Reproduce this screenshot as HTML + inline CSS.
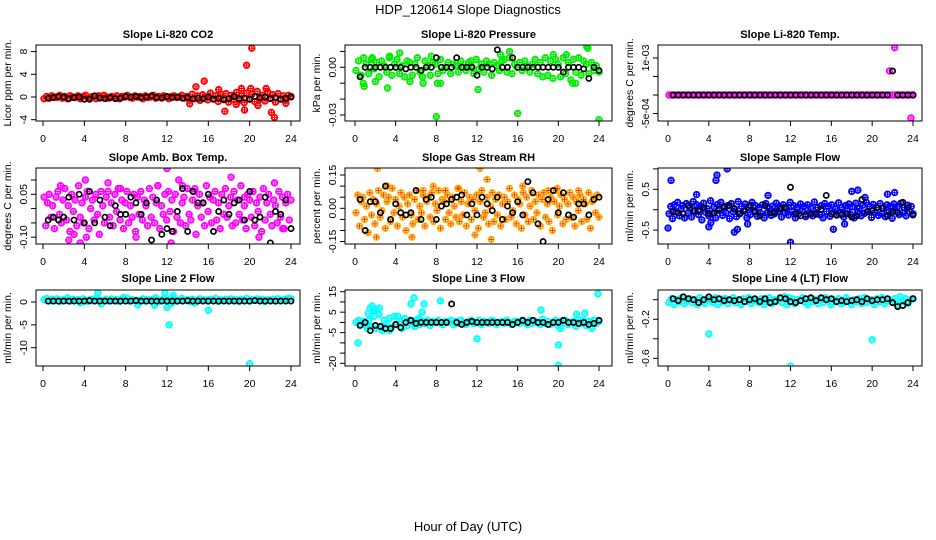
<!DOCTYPE html>
<html><head><meta charset="utf-8"><style>
html,body{margin:0;padding:0;background:#fff;}
svg{display:block;font-family:"Liberation Sans",sans-serif;}
</style></head><body>
<svg id="chart" width="936" height="540" viewBox="0 0 936 540" xmlns="http://www.w3.org/2000/svg">
<rect x="0" y="0" width="936" height="540" fill="#fff"/>
<text x="468" y="14" text-anchor="middle" font-size="13">HDP_120614  Slope Diagnostics</text>
<text x="468" y="531" text-anchor="middle" font-size="13">Hour of Day (UTC)</text>
</svg>
<script>
// ---------- data ----------
const xTicks=[0,4,8,12,16,20,24];
const titles=["Slope Li-820 CO2","Slope Li-820 Pressure","Slope Li-820 Temp.","Slope Amb. Box Temp.","Slope Gas Stream RH","Slope Sample Flow","Slope Line 2 Flow","Slope Line 3 Flow","Slope Line 4 (LT) Flow"];
const yLabels=["Licor ppm per min.","kPa per min.","degrees C per min.","degrees C per min.","percent per min.","ml/min per min.","ml/min per min.","ml/min per min.","ml/min per min."];
const colors=["#ff0000","#00ee00","#ff00ff","#ff00ff","#ffb000","#0000ff","#00ffff","#00ffff","#00ffff"];
const crossColors=["#ff0000","#00ee00","#ff00ff","#ff00ff","#ff3000","#0000ff","#00ffff","#00ffff","#00ffff"];
const yTicks=[[-4,0,4,8],[0.01,0,-0.01,-0.02,-0.03],[0.001,0.0005,0,-0.0005],[0.1,0.05,0,-0.05,-0.1],[0.15,0.1,0.05,0,-0.05,-0.1,-0.15],[1,0.5,0,-0.5],[0,-5,-10],[15,10,5,0,-5,-10,-15,-20],[0,-0.2,-0.4,-0.6]];
const yTickLabels=[["-4","0","4","8"],["","0.00","","","-0.03"],["1e-03","","","-5e-04"],["","0.05","","","-0.10"],["0.15","","","0.00","","","-0.15"],["","0.5","","-0.5"],["0","-5","-10"],["15","","5","","-5","","","-20"],["","-0.2","","-0.6"]];
// colored (all records) series, evenly spaced over the day
const c1=[-.3,.1,-.2,.2,0,-.1,.3,-.2,.1,-.3,.2,0,-.1,.2,-.3,.1,.3,-.2,0,.1,-.3,.2,-.1,.3,0,-.2,.1,-.1,.2,-.3,.1,0,.3,-.1,-.2,.2,0,.1,-.3,.2,-.1,0,.3,-.2,.1,-.1,.2,0,-.3,.1,.2,-.1,0,.3,-.2,.1,-.4,.5,-.3,.2,-.6,.4,0,-.5,.7,-.3,.2,-.8,.5,-.2,.6,-.9,.3,-.4,.8,-.6,.2,-1,.7,-.3,.5,-.8,1,-.4,.3,-.7,.9,-.2,.4,-.9,.6,-.3,.2,-.5,.3,.1];
const c2=[-.002,.004,-.005,.006,.002,-.004,.005,-.001,.003,-.006,.004,.001,-.003,.006,-.005,.002,.005,-.004,.001,-.006,.004,.003,-.005,.002,.006,-.003,-.006,.004,.001,-.005,.003,.002,-.004,.005,-.002,0,.003,-.004,.002,.001,-.003,.004,0,-.002,.003,.001,-.004,.005,-.001,.002,-.003,.004,.002,-.005,.003,.001,-.002,.004,.005,-.003,.006,-.004,.002,0,.003,-.002,.004,.001,-.003,.002,.005,-.004,.003,-.006,.006,-.005,.004,-.007,.005,.002,-.006,.006,-.004,.003,-.008,.005,-.003,.006,-.005,.004,.002,-.004,.003,-.002,.001,-.003];
const c3=[0,0,0,0,0,0,0,0,0,0,0,0,0,0,0,0,0,0,0,0,0,0,0,0,0,0,0,0,0,0,0,0,0,0,0,0,0,0,0,0,0,0,0,0,0,0,0,0,0,0,0,0,0,0,0,0,0,0,0,0,0,0,0,0,0,0,0,0,0,0,0,0,0,0,0,0,0,0,0,0,0,0,0,0,0,0,0,0,0,0,0,0,0,0,0,0];
const c4=[.04,-.06,.02,.05,-.03,.01,-.07,.04,.06,-.02,-.05,.03,.07,-.04,.01,-.08,.05,-.01,.03,-.06,.08,-.03,.02,-.05,.04,.06,-.07,0,.03,-.04,.05,-.02,-.09,.06,.01,-.05,.04,.09,-.03,.02,-.06,.05,-.01,.07,-.04,.03,-.07,.02,.06,-.05,.01,-.03,.05,-.08,.04,-.02,.06,-.04,.03,.01,-.06,.07,-.03,.04,-.05,.02,.08,-.07,.01,-.02,.05,-.04,.06,-.01,.03,-.08,.05,-.03,.1,-.05,.02,.04,-.06,.07,-.02,-.04,.03,.06,-.09,.01,.05,-.03,.02,-.06,.08,-.01,.04,-.05,.03,.06,-.04,.02,-.07,.05,-.02,.07,-.03,.01,.04,-.06,.06,-.05,.03,-.02,.08,-.04,.01,-.07,.05,.03,-.03,.06,-.06,.02,-.01,.04,-.08,.07,-.04,.02,.05,-.02,-.06,.03,.01,-.05,.06,-.03,.04,-.07,.02,.05,-.04,.03];
const c5=[-.02,.06,-.08,.03,.05,-.05,.01,-.11,.07,-.03,.04,-.07,.02,.08,-.04,-.01,.06,-.09,.03,.05,-.06,.09,-.02,.04,-.08,.01,.07,-.04,.05,-.1,.02,.06,-.03,-.07,.04,.08,-.05,.01,-.02,.06,-.08,.03,.05,-.04,.07,-.06,.02,-.01,.08,-.09,.04,.03,-.05,.06,-.02,-.07,.05,.01,-.04,.09,-.06,.03,-.03,.07,-.08,.02,.05,-.05,.04,-.01,.06,-.09,.03,.08,-.04,-.02,.05,-.07,.01,.07,-.06,.04,-.03,.06,-.08,.02,.05,-.05,.03,.09,-.04,-.01,.06,-.07,.04,.02,-.09,.07,-.03,.05,-.06,.01,.08,-.05,.03,-.02,.06,-.08,.04,.07,-.04,.02,-.06,.05,-.1,.03,.08,-.03,.01,.06,-.07,.04,-.05,.02,.07,-.04,.05,-.08,.03,-.01,.06,-.06,.04,.02,-.05,.07,-.09,.03,.05,-.02,.06,-.04];
const c6=[-.1,.08,-.22,.12,-.05,.18,-.15,.02,.1,-.2,.15,-.08,.05,-.18,.2,-.03,.12,-.12,.08,-.25,.16,-.06,.03,-.15,.22,-.1,.07,-.2,.13,-.02,.18,-.14,.04,-.08,.1,-.22,.15,-.05,.02,-.17,.2,-.1,.08,-.04,.14,-.2,.06,-.12,.18,-.03,.1,-.16,.05,-.09,.12,-.2,.15,-.06,.03,-.14,.09,-.1,.16,-.04,.07,-.18,.12,-.08,.02,-.13,.18,-.05,.1,-.2,.06,-.1,.14,-.03,.08,-.17,.12,-.07,.04,-.15,.19,-.09,.05,-.12,.1,-.2,.15,-.04,.08,-.16,.12,-.06,.02,-.13,.17,-.08,.06,-.18,.1,-.03,.14,-.12,.07,-.2,.16,-.05,.03,-.15,.11,-.09,.18,-.04,.08,-.19,.13,-.07,.05,-.14,.15,-.1,.04,-.17,.12,-.06,.09,-.21,.14,-.03,.07,-.12,.16,-.08,.05,-.15,.11,-.05,.08,-.1];
const c7=[.5,.8,.2,.6,.3,.7,.1,.5,.4,.9,.2,.6,.3,.5,-.2,.7,.4,.1,.6,.3,.8,.5,-.4,.4,.6,.2,.7,.3,.5,.1,.6,.4,.8,.2,.5,.3,-.6,.4,.7,.2,.5,.3,.6,.9,.1,.4,.7,.3,.5,-.3,.6,.2,.4,.8,.3,.5,.1,.6,-.2,.4,.7,.3,.5,.2,.6,.4,.8,.1,.5,.3,.6,.2,.7,.4,.5,.1,.6,.3,.8,.2,.5,.4,.7,.3,.6,.1,.5,.4,.6,.2,.7,.3,.5,.6,.8,.7];
const c8=[0,1,-1,.5,-1.5,1,-2,3,-3,4,-2,1,-1,2,-2.5,3,-1,.5,-3,2,-1.5,1,.5,-2,1.5,-1,.5,-.5,1,-1.5,.5,0,1,-.5,-1,.5,0,1,-1,.5,-.5,1,0,-1,.5,1,-.5,0,1,-1,.5,0,-.5,1,.5,-1,0,.5,-.5,1,0,-1,.5,.5,-.5,1,0,-1,1,-.5,.5,0,-1,1.5,-.5,.5,-1,0,1,-1.5,.5,-.5,1,-1,0,.5,-2,1.5,-.5,1,-1.5,.5,0,1,-.5,.5];
const c9=[-.03,.01,-.05,0,-.02,.02,-.04,-.01,.01,-.03,0,-.05,.02,-.02,-.04,.01,-.01,-.03,.02,-.05,0,-.02,.01,-.04,-.01,.02,-.03,0,-.05,.01,-.02,.02,-.04,-.01,0,-.03,.01,-.05,-.02,.02,-.04,0,-.01,.01,-.03,.03,-.05,-.02,.01,-.04,0,-.01,.02,-.03,-.05,.01,-.02,0,-.04,.01,-.03,.02,-.01,-.05,0,-.02,.01,-.04,-.03,.02,-.01,-.05,0,-.02,.01,-.04,.02,-.03,-.01,0,-.05,.01,-.02,.02,-.04,-.01,0,-.03,.01,-.05,.03,-.02,.01,-.04,0,.01];
// colored outliers
const o1h=[14.2,14.8,15.6,17,17.6,19.2,19.5,19.7,20.2,20.1,21.6,22.1,22.4,23.5,18.7,20.8];
const o1v=[-1.2,1.8,2.8,1.3,-2.5,1.5,-2.3,5.6,8.6,1.5,1.5,-2.7,-3.6,-1.1,-1.3,-1.5];
const o2h=[.8,.9,2,3.2,4.4,5.4,6.7,8,8.1,8.4,12.1,14.3,15.2,16,19.5,20.8,22.8,22.9,24,1.7,7.5,3.4,11.4,21.4,21.7];
const o2v=[-.01,-.012,-.009,-.013,.009,-.009,-.01,-.031,-.01,-.01,-.014,.008,.01,-.029,.008,.008,.013,.012,-.033,.006,.007,.007,.004,-.01,-.01];
const o3h=[22.2,21.7,23.8];
const o3v=[.00128,.00065,-.00062];
const o4h=[1.7,3,3.6,4.1,6.3,7.5,9,11.1,12,12.4,13.5,14.7,18.2,19.5,20.3,20.9,22.4,23.2,4.2,2.5];
const o4v=[.08,-.09,-.12,.1,.06,.07,-.1,.08,.14,-.12,.08,.07,.11,.04,.06,-.1,.09,-.07,-.1,-.11];
const o5h=[2.2,3.2,5.6,7.7,10.2,11.8,12.3,13,13.4,16.5,2.1,19,19.9,22,6.7,8.9];
const o5v=[.18,.1,-.13,.1,.09,-.12,.18,.13,-.14,.1,-.13,.08,.09,.08,.08,.08];
const o6h=[0,.3,4,4.7,4.8,5.8,6.5,6.8,9.8,12,16.2,17.3,18,18.6,19.3,21.5,22.2,4.2,7.8,2.8];
const o6v=[-.45,.72,-.42,.72,.85,1,-.55,-.48,.35,-.8,-.48,-.35,.45,.48,.3,.38,.42,-.32,-.35,.37];
const o7h=[5.3,11.8,12,12.2,12.6,16,20,7.8,10.8];
const o7v=[2,2,-1.2,-5,1.5,-1.8,-13.5,1,-.7];
const o8h=[.3,1.3,1.5,1.7,2,2.4,4.2,5.5,5.8,6.6,6.8,8.4,12,18.3,20,20,20.2,21.8,22.6,23.9,23.3,1.2,2.7,3.4,1.9,6.3];
const o8v=[-10,4.5,7,8,6,7,3,9,12,5,9,10.5,-8,6,-21,-11,-3,4,4.5,14,-3,-3,-4,-4,6,2];
const o9h=[4,20,12,11.8,5.5];
const o9v=[-.35,-.41,-.68,.02,.01];
// black (subset) series, every half hour from 0.5 h
const k1=[-.2,-.1,.1,0,-.3,-.1,0,-.4,-.4,.2,-.2,-.3,-.1,-.3,-.2,.1,0,.1,-.1,0,.2,-.1,-.2,.1,-.1,0,-.2,-.1,-.3,-.2,-.3,0,-.4,-.2,-.5,-.3,.1,-.3,-.2,-.4,.1,-.1,0,-.3,-.1,-.4,-.2,0];
const k2=[-.006,0,0,0,0,0,0,0,0,-.001,0,0,-.002,0,0,.006,0,0,0,.006,0,0,0,-.005,0,0,-.001,.011,0,0,.006,0,0,0,0,0,0,0,0,0,-.003,0,0,0,-.001,-.007,0,-.002];
const k3=[0,0,0,0,0,0,0,0,0,0,0,0,0,0,0,0,0,0,0,0,0,0,0,0,0,0,0,0,0,0,0,0,0,0,0,0,0,0,0,0,0,0,0,.00065,0,0,0,0];
const k4=[-.04,-.03,-.04,-.03,.04,-.04,.05,-.05,.06,-.05,.03,-.03,-.06,.01,-.02,-.02,.04,.02,-.02,.02,-.11,.03,-.09,-.07,-.08,-.01,.07,-.08,.06,.02,.02,.05,-.08,-.01,.03,-.02,.02,.03,-.04,.06,-.04,-.03,.04,-.12,-.01,-.02,.03,-.07];
const k5=[.04,-.1,.03,.03,-.02,.1,-.05,.02,-.02,-.03,-.02,.08,-.05,.04,.05,-.05,.01,.02,.04,.05,.06,-.03,.02,-.03,.05,.02,-.01,.05,-.05,.01,-.02,.03,-.03,.12,.07,-.07,-.15,.04,.08,-.02,.07,-.03,-.04,.02,.02,-.03,.04,.05];
const k6=[-.05,-.08,-.1,.1,-.03,-.02,.05,-.1,-.08,.02,.08,.1,.02,-.1,-.02,.1,-.05,-.15,.1,-.08,-.06,.02,.05,.55,-.1,-.15,-.12,-.1,-.11,.01,.35,-.1,-.13,-.12,-.1,-.18,-.15,.25,-.05,-.02,.05,.04,-.15,-.05,-.07,.18,.05,-.13];
const k7=[.2,.2,.2,.2,.2,.2,.2,.2,.3,.2,.2,.2,.2,.2,.2,.2,.2,.3,.2,.2,.2,.2,.2,.2,.2,.2,.2,.3,.2,.2,.2,.2,.2,.2,.2,.2,.2,.2,.2,.2,.3,.2,.2,.2,.2,.2,.2,.2];
const k8=[-1.5,0,-4,-1.5,-2,-3,-3,-1,-2.5,0,1,-.5,0,0,0,0,0,0,9,0,-1,0,.5,0,0,0,0,0,0,0,-1,0,1,0,1,0,0,-1,0,0,1,0,0,-.5,0,-1,-.5,1];
const k9=[.01,-.01,.03,.01,0,-.03,0,.03,0,.01,-.01,0,-.01,0,-.02,0,.01,-.02,.01,-.03,-.02,.02,.01,-.02,-.03,-.01,.01,.02,-.01,.02,0,.01,-.02,-.01,-.02,-.01,0,-.02,.01,-.01,0,0,.01,-.03,-.07,-.06,-.03,.01];

const allC=[c1,c2,c3,c4,c5,c6,c7,c8,c9];
const allOH=[o1h,o2h,o3h,o4h,o5h,o6h,o7h,o8h,o9h];
const allOV=[o1v,o2v,o3v,o4v,o5v,o6v,o7v,o8v,o9v];
const allK=[k1,k2,k3,k4,k5,k6,k7,k8,k9];

// ---------- layout ----------
const cols=[{l:36,r:300,x0:43,x24:291},{l:345,r:612,x0:355,x24:599},{l:658,r:922,x0:668,x24:913}];
const rows=[{t:45,b:121,ty:34},{t:168,b:244,ty:157},{t:290,b:366,ty:278}];
const yCal=[[0,97,4,74.3],[0,67.3,-0.03,115],[0,95,0.001,58],[0,208.6,0.05,194.3],[0,208.3,0.15,175],[0,209.7,0.5,189.3],[0,302,-10,347.7],[0,322.4,15,291.7],[0,299.7,-0.6,358.3]];

const NS="http://www.w3.org/2000/svg";
const svg=document.getElementById("chart");
function mk(tag,attrs,parent){const e=document.createElementNS(NS,tag);for(const k in attrs)e.setAttribute(k,attrs[k]);(parent||svg).appendChild(e);return e;}
function coloredPoint(parent,x,y,col,cross){
  const g=mk("g",{},parent);
  
  
  mk("circle",{cx:x,cy:y,r:2.8,stroke:col,"stroke-width":"1.8"},g);
  mk("path",{d:`M${x-2.5} ${y}H${x+2.5}M${x} ${y-2.5}V${y+2.5}`,stroke:cross,"stroke-width":"1"},g);
}

for(let p=0;p<9;p++){
  const col=cols[p%3],row=rows[Math.floor(p/3)];
  const cal=yCal[p];
  const xs=h=>col.x0+(h/24)*(col.x24-col.x0);
  const ys=v=>cal[1]+(v-cal[0])*(cal[3]-cal[1])/(cal[2]-cal[0]);
  const g=mk("g",{});
  
  
  const clip=mk("clipPath",{id:"clip"+p},g);
  mk("rect",{x:col.l,y:row.t,width:col.r-col.l,height:row.b-row.t},clip);
  const t=mk("text",{x:(col.l+col.r)/2,y:row.ty+4,"text-anchor":"middle","font-size":"11","font-weight":"bold"},g);
  t.textContent=titles[p];
  
  
  const yl=mk("text",{transform:`translate(${col.l-25},${(row.t+row.b)/2}) rotate(-90)`,"text-anchor":"middle","font-size":"10.5"},g);
  yl.textContent=yLabels[p];
  
  
  const pts=mk("g",{"clip-path":`url(#clip${p})`,fill:"none","stroke-width":"1.6"},g);
  
  
  const cArr=allC[p];
  cArr.forEach((v,i)=>{
    const h=0.1+i*(23.9/(cArr.length-1));
    coloredPoint(pts,xs(h),ys(v),colors[p],crossColors[p]);
  });
  allOH[p].forEach((h,i)=>{
    coloredPoint(pts,xs(h),ys(allOV[p][i]),colors[p],crossColors[p]);
  });
  allK[p].forEach((v,i)=>{
    const h=0.5+i*0.5;
    const c=mk("circle",{cx:xs(h),cy:ys(v),r:2.6,stroke:"#000","stroke-width":"1.7"},pts);
    
    
  });
  const box=mk("rect",{x:col.l,y:row.t,width:col.r-col.l,height:row.b-row.t,fill:"none",stroke:"#000","stroke-width":"1"},g);
  
  
  const xa=mk("g",{stroke:"#000","stroke-width":"1"},g);
  
  
  mk("line",{x1:xs(xTicks[0]),x2:xs(xTicks[xTicks.length-1]),y1:row.b,y2:row.b},xa);
  xTicks.forEach(h=>{
    mk("line",{x1:xs(h),x2:xs(h),y1:row.b,y2:row.b+5},xa);
    const tl=mk("text",{x:xs(h),y:row.b+21,"text-anchor":"middle","font-size":"10.5",stroke:"none",fill:"#000"},g);
    tl.textContent=h;
    
    
  });
  const ya=mk("g",{stroke:"#000","stroke-width":"1"},g);
  
  
  const yt=yTicks[p];
  const yv=yt.map(ys);
  mk("line",{x1:col.l,x2:col.l,y1:Math.min(...yv),y2:Math.max(...yv)},ya);
  yt.forEach((v,i)=>{
    mk("line",{x1:col.l,x2:col.l-5,y1:ys(v),y2:ys(v)},ya);
    const lab=yTickLabels[p][i];
    if(lab){
      const tl=mk("text",{transform:`translate(${col.l-9},${ys(v)}) rotate(-90)`,"text-anchor":"middle","font-size":"10.5",fill:"#000"},g);
      tl.textContent=lab;
      
      
    }
  });
}
</script>
</body></html>
